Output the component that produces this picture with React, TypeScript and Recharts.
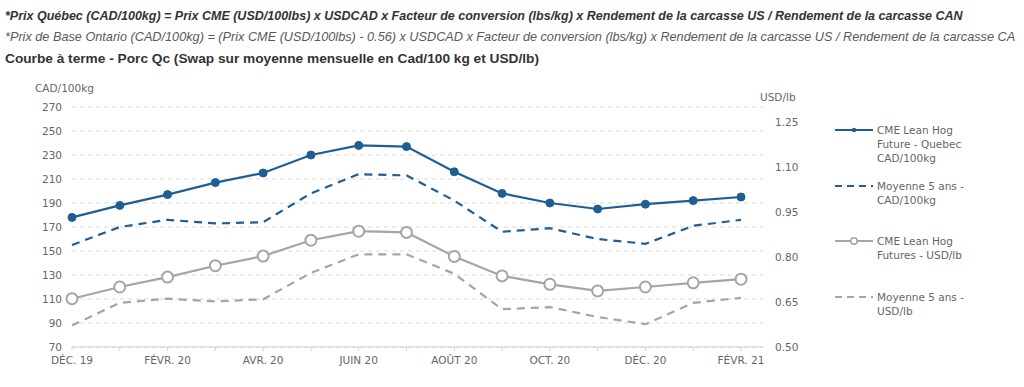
import React from "react";
import { LineChart, Line, XAxis, YAxis, CartesianGrid, Legend } from "recharts";

// mois de la courbe à terme
const months = [
  "DÉC. 19", "JANV. 20", "FÉVR. 20", "MARS 20", "AVR. 20", "MAI 20", "JUIN 20", "JUIL. 20",
  "AOÛT 20", "SEPT. 20", "OCT. 20", "NOV. 20", "DÉC. 20", "JANV. 21", "FÉVR. 21",
];

const cmeQuebecCad = [178, 188, 197, 207, 215, 230, 238, 237, 216, 198, 190, 185, 189, 192, 195];
const avg5Cad = [155, 170, 176, 173, 174, 198, 214, 213, 192, 166, 169, 160, 156, 171, 176];
const cmeUsd = [0.661, 0.7, 0.733, 0.771, 0.803, 0.856, 0.886, 0.882, 0.802, 0.737, 0.709, 0.687, 0.7, 0.714, 0.726];
const avg5Usd = [0.572, 0.647, 0.661, 0.652, 0.659, 0.747, 0.809, 0.809, 0.744, 0.626, 0.633, 0.6, 0.576, 0.647, 0.664];

const leftTicks = [70, 90, 110, 130, 150, 170, 190, 210, 230, 250, 270];
const rightTicks = [0.5, 0.65, 0.8, 0.95, 1.1, 1.25];

const legendLabels = [
  "CME Lean Hog\nFuture - Quebec\nCAD/100kg",
  "Moyenne 5 ans -\nCAD/100kg",
  "CME Lean Hog\nFutures - USD/lb",
  "Moyenne 5 ans -\nUSD/lb",
];

const data = months.map((m, i) => ({
  month: m,
  cmeQuebecCad: cmeQuebecCad[i],
  avg5Cad: avg5Cad[i],
  cmeUsd: cmeUsd[i],
  avg5Usd: avg5Usd[i],
}));

const BLUE = "#1d5e94";
const GREY = "#a5a5a5";
const TXT = "#666666";
const FONT = "'DejaVu Sans', sans-serif";

const AxisTitle = (props: any) => (
  <text x={props.tx} y={props.ty} fill={TXT} fontSize={10.5} fontFamily={FONT}>
    {props.text}
  </text>
);

const MonthTick = (props: any) => {
  const { x, y, payload, index } = props;
  if (index % 2 === 1) return <g />;
  return (
    <text x={x} y={y + 11} textAnchor="middle" fill={TXT} fontSize={10.5} fontFamily={FONT}>
      {payload.value}
    </text>
  );
};

const swatches = [
  { color: BLUE, dash: undefined, dot: "filled" },
  { color: BLUE, dash: "7 5", dot: "none" },
  { color: GREY, dash: undefined, dot: "hollow" },
  { color: GREY, dash: "7 5", dot: "none" },
];

const LegendBox = () => (
  <div style={{ fontFamily: FONT, fontSize: 10.5, color: TXT }}>
    {legendLabels.map((label, i) => {
      const s = swatches[i];
      return (
        <div key={i} style={{ height: 55.7, display: "flex", alignItems: "flex-start" }}>
          <svg width={42} height={14} style={{ flex: "none" }}>
            <line x1={0} y1={7} x2={38} y2={7} stroke={s.color} strokeWidth={2} strokeDasharray={s.dash} />
            {s.dot === "filled" && <circle cx={19} cy={7} r={2.2} fill={s.color} />}
            {s.dot === "hollow" && <circle cx={19} cy={7} r={3.2} fill="#fff" stroke={s.color} strokeWidth={1.5} />}
          </svg>
          <div style={{ whiteSpace: "pre-line", lineHeight: "14px" }}>{label}</div>
        </div>
      );
    })}
  </div>
);

export default function App() {
  return (
    <div style={{ position: "fixed", left: 0, top: 0, width: 1024, height: 387, background: "#fff" }}>
      <div style={{ position: "absolute", left: 5, top: 6, fontFamily: "'Liberation Sans', Arial, sans-serif", whiteSpace: "nowrap" }}>
        <div style={{ fontSize: 12.5, fontWeight: "bold", fontStyle: "italic", color: "#333", lineHeight: "21px" }}>
          *Prix Québec (CAD/100kg) = Prix CME (USD/100lbs) x USDCAD x Facteur de conversion (lbs/kg) x Rendement de la carcasse US / Rendement de la carcasse CAN
        </div>
        <div style={{ fontSize: 12.7, fontStyle: "italic", color: "#595959", lineHeight: "21px" }}>
          *Prix de Base Ontario (CAD/100kg) = (Prix CME (USD/100lbs) - 0.56) x USDCAD x Facteur de conversion (lbs/kg) x Rendement de la carcasse US / Rendement de la carcasse CA
        </div>
        <div style={{ fontSize: 13.7, fontWeight: "bold", color: "#333", lineHeight: "21px" }}>
          Courbe à terme - Porc Qc (Swap sur moyenne mensuelle en Cad/100 kg et USD/lb)
        </div>
      </div>
      <div style={{ position: "absolute", left: 0, top: 0 }}>
        <LineChart width={1024} height={387} data={data} margin={{ top: 107, right: 21, bottom: 10, left: 0 }}>
          <CartesianGrid yAxisId="left" vertical={false} stroke="#d9d9d9" strokeDasharray="4 4" />
          <XAxis
            dataKey="month"
            interval={0}
            padding={{ left: 0, right: 22 }}
            height={30}
            axisLine={{ stroke: "#d0d0d0" }}
            tickLine={{ stroke: "#d0d0d0" }}
            tickSize={4}
            tick={<MonthTick />}
          />
          <YAxis
            yAxisId="left"
            width={72}
            domain={[70, 270]}
            ticks={leftTicks}
            axisLine={false}
            tickLine={false}
            tickMargin={4}
            tick={{ fill: TXT, fontSize: 10.5, fontFamily: FONT }}
            label={<AxisTitle tx={35} ty={92} text="CAD/100kg" />}
          />
          <YAxis
            yAxisId="right"
            orientation="right"
            width={50}
            domain={[0.5, 1.3]}
            ticks={rightTicks}
            axisLine={false}
            tickLine={false}
            tickMargin={6}
            tickFormatter={(v: number) => v.toFixed(2)}
            tick={{ fill: TXT, fontSize: 10.5, fontFamily: FONT }}
            label={<AxisTitle tx={760} ty={101} text="USD/lb" />}
          />
          <Legend
            layout="vertical"
            align="right"
            verticalAlign="top"
            wrapperStyle={{ left: 835, top: 123, width: 190 }}
            content={<LegendBox />}
          />
          <Line
            yAxisId="left"
            dataKey="avg5Cad"
            stroke={BLUE}
            strokeWidth={2.2}
            strokeDasharray="8 6"
            dot={false}
            isAnimationActive={false}
          />
          <Line
            yAxisId="left"
            dataKey="cmeQuebecCad"
            stroke={BLUE}
            strokeWidth={2.2}
            dot={{ r: 4, fill: BLUE, stroke: BLUE, strokeWidth: 1 }}
            isAnimationActive={false}
          />
          <Line
            yAxisId="right"
            dataKey="avg5Usd"
            stroke={GREY}
            strokeWidth={2.2}
            strokeDasharray="8 6"
            dot={false}
            isAnimationActive={false}
          />
          <Line
            yAxisId="right"
            dataKey="cmeUsd"
            stroke={GREY}
            strokeWidth={2.2}
            dot={{ r: 5.5, fill: "#fff", stroke: GREY, strokeWidth: 2 }}
            isAnimationActive={false}
          />
        </LineChart>
      </div>
    </div>
  );
}
